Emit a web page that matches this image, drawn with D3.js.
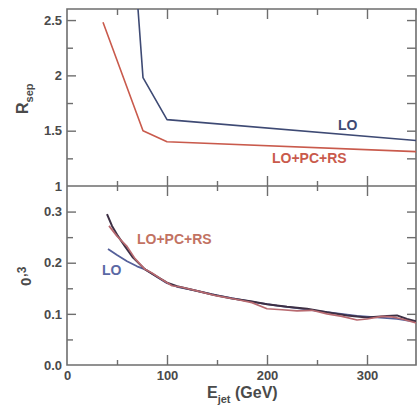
<!DOCTYPE html>
<html><head><meta charset="utf-8">
<script src="https://cdn.jsdelivr.net/npm/d3@7"></script>
<style>
html,body{margin:0;padding:0;background:#fff;}
text{font-family:"Liberation Sans",Arial,sans-serif;font-weight:bold;}
</style></head>
<body><svg id="c" width="417" height="413"></svg>
<script>
// ---- data ----
const topLO_E = [71, 76, 100, 350];
const topLO_R = [2.6, 1.98, 1.6, 1.41];
const topRS_E = [36, 76, 100, 350];
const topRS_R = [2.48, 1.5, 1.4, 1.31];

const botLO_E = [41, 50, 60, 70, 78, 90, 100, 110, 130, 150, 170, 190, 210, 230, 250, 270, 290, 310, 330, 350];
const botLO_V = [0.227, 0.215, 0.203, 0.193, 0.187, 0.172, 0.160, 0.153, 0.145, 0.136, 0.129, 0.122, 0.116, 0.111, 0.106, 0.101, 0.096, 0.093, 0.090, 0.084];
const botRS_E = [42, 50, 60, 68, 78, 85, 95, 105, 115, 130, 150, 170, 185, 200, 215, 230, 245, 260, 275, 290, 300, 315, 325, 335, 350];
const botRS_V = [0.272, 0.252, 0.232, 0.208, 0.187, 0.180, 0.167, 0.155, 0.152, 0.145, 0.135, 0.128, 0.122, 0.110, 0.108, 0.106, 0.107, 0.100, 0.095, 0.088, 0.090, 0.095, 0.094, 0.090, 0.082];
const botDK_E = [40, 45, 50, 58, 66, 78, 90, 100, 110, 125, 145, 165, 185, 200, 220, 240, 260, 280, 300, 320, 330, 340, 350];
const botDK_V = [0.295, 0.272, 0.255, 0.232, 0.210, 0.187, 0.173, 0.161, 0.154, 0.147, 0.138, 0.130, 0.124, 0.119, 0.114, 0.110, 0.103, 0.097, 0.093, 0.096, 0.097, 0.090, 0.085];

const xMajor = [0, 100, 200, 300];
const xMinor = [50, 150, 250, 350];
const topMajor = [1, 1.5, 2, 2.5];
const topMinor = [1.25, 1.75, 2.25];
const topLabels = ["1", "1.5", "2", "2.5"];
const botMajor = [0, 0.1, 0.2, 0.3];
const botMinor = [0.05, 0.15, 0.25];
const botLabels = ["0.0", "0.1", "0.2", "0.3"];

// ---- layout ----
const L = 67, R = 416, T = 9, M = 186, B = 365;
const svg = d3.select("#c");
const x = d3.scaleLinear().domain([0, 349]).range([L, R]);
const yT = d3.scaleLinear().domain([1, 2.6]).range([M, T]);
const yB = d3.scaleLinear().domain([0, 0.35]).range([B, M]);

const axisCol = "#6e6e6e";
const txtCol = "#4a4a4a";
svg.append("defs").append("clipPath").attr("id","cp").append("rect")
  .attr("x", L).attr("y", T).attr("width", R - L).attr("height", B - T);

function styleAxis(g){ g.select(".domain").remove(); g.selectAll("line").attr("stroke", axisCol).attr("stroke-width", 1.4); g.selectAll("text").remove(); }

// x ticks: bottom (up), top (down), middle (both)
[[B, d3.axisTop, 10, 5], [T, d3.axisBottom, 10, 6]].forEach(([yy, ax, maj, mn]) => {
  svg.append("g").attr("transform", `translate(0,${yy})`).call(ax(x).tickValues(xMajor.slice(1)).tickSize(maj)).call(styleAxis);
  svg.append("g").attr("transform", `translate(0,${yy})`).call(ax(x).tickValues(xMinor).tickSize(mn)).call(styleAxis);
});
svg.append("g").attr("transform", `translate(0,${M})`).call(d3.axisTop(x).tickValues(xMajor.slice(1)).tickSize(10)).call(styleAxis);
svg.append("g").attr("transform", `translate(0,${M})`).call(d3.axisBottom(x).tickValues(xMajor.slice(1)).tickSize(10)).call(styleAxis);
svg.append("g").attr("transform", `translate(0,${M})`).call(d3.axisTop(x).tickValues(xMinor).tickSize(5)).call(styleAxis);
svg.append("g").attr("transform", `translate(0,${M})`).call(d3.axisBottom(x).tickValues(xMinor).tickSize(5)).call(styleAxis);

// y ticks left (inward) and right (inward)
function yTicks(scale, maj, mn){
  svg.append("g").attr("transform", `translate(${L},0)`).call(d3.axisRight(scale).tickValues(maj).tickSize(9)).call(styleAxis);
  svg.append("g").attr("transform", `translate(${L},0)`).call(d3.axisRight(scale).tickValues(mn).tickSize(6)).call(styleAxis);
  svg.append("g").attr("transform", `translate(${R},0)`).call(d3.axisLeft(scale).tickValues(maj.concat(mn)).tickSize(9)).call(styleAxis);
}
yTicks(yT, topMajor.slice(1), topMinor);
yTicks(yB, botMajor.slice(1), botMinor);

// frame
svg.append("path").attr("d", `M${L},${T}H${R}V${B}H${L}Z M${L},${M}H${R}`)
  .attr("fill","none").attr("stroke", axisCol).attr("stroke-width", 1.6);

// tick labels via axes
function labelAxis(g){ g.select(".domain").remove(); g.selectAll("line").remove();
  g.selectAll("text").attr("font-size", 13).attr("font-family", "Liberation Sans, Arial, sans-serif").attr("font-weight","bold").style("fill", txtCol); }
svg.append("g").attr("transform", `translate(${L},0)`)
  .call(d3.axisLeft(yT).tickValues(topMajor).tickFormat((d,i)=>topLabels[i]).tickSize(0).tickPadding(5)).call(labelAxis);
svg.append("g").attr("transform", `translate(${L},0)`)
  .call(d3.axisLeft(yB).tickValues(botMajor).tickFormat((d,i)=>botLabels[i]).tickSize(0).tickPadding(5)).call(labelAxis);
svg.append("g").attr("transform", `translate(0,${B})`)
  .call(d3.axisBottom(x).tickValues(xMajor).tickFormat(d3.format("d")).tickSize(0).tickPadding(6)).call(labelAxis);

// lines
const plot = svg.append("g").attr("clip-path","url(#cp)");
function drawLine(E, V, ys, color, w){
  const pts = E.map((e,i)=>[e, V[i]]);
  plot.append("path").datum(pts)
    .attr("d", d3.line().x(d=>x(d[0])).y(d=>ys(d[1])))
    .attr("fill","none").attr("stroke", color).attr("stroke-width", w).attr("stroke-linejoin","round");
}
drawLine(topLO_E, topLO_R, yT, "#3e4a74", 1.6);
drawLine(topRS_E, topRS_R, yT, "#c95a4c", 1.6);
drawLine(botLO_E, botLO_V, yB, "#55609a", 1.8);
drawLine(botDK_E, botDK_V, yB, "#3d2f44", 2.0);
drawLine(botRS_E, botRS_V, yB, "#b86a70", 1.7);

// series labels
function lab(t, xx, yy, col){ svg.append("text").attr("x", xx).attr("y", yy).attr("font-size", 14).style("fill", col).text(t); }
lab("LO", x(271), yT(1.51), "#3e4a74");
lab("LO+PC+RS", x(205), yT(1.21), "#c95a4c");
lab("LO+PC+RS", x(70), yB(0.236), "#c27262");
lab("LO", x(35), yB(0.176), "#5a68a4");

// axis titles
const xt = svg.append("text").attr("x", 207).attr("y", 398).attr("font-size", 16).style("fill", txtCol);
xt.append("tspan").text("E");
xt.append("tspan").attr("font-size", 11).attr("dy", 5).text("jet");
xt.append("tspan").attr("dy", -5).text(" (GeV)");

const yt = svg.append("text").attr("transform", "translate(28,114) rotate(-90)").attr("font-size", 16).style("fill", txtCol);
yt.append("tspan").text("R");
yt.append("tspan").attr("font-size", 11).attr("dy", 5).text("sep");

const yb = svg.append("text").attr("transform", "translate(31,286) rotate(-90)").attr("font-size", 15).style("fill", txtCol);
yb.append("tspan").text("0");
yb.append("tspan").attr("font-size", 12).attr("dx", 1).attr("dy", -5).text(",3");
</script></body></html>
